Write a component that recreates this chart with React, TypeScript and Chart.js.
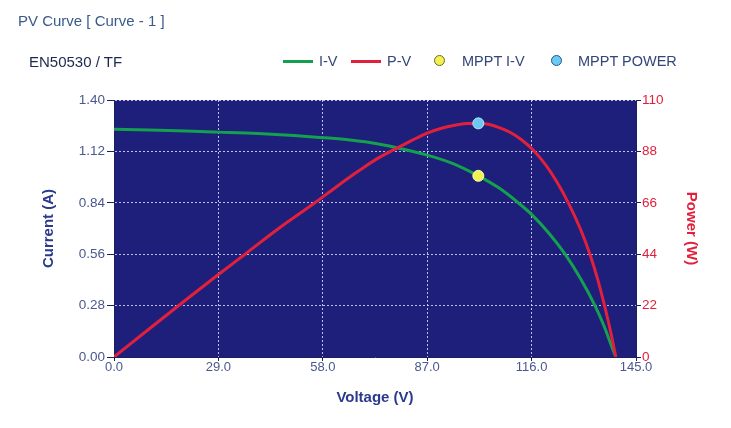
import React, { useEffect, useRef } from 'react';
import { Chart, registerables } from 'chart.js';

Chart.register(...registerables);

// I-V curve (Voltage V, Current A)
const ivVoltage = [0, 10, 20, 29, 40, 50, 58, 65, 71, 78.5, 87, 94, 101.2, 107, 112.3, 116.2, 121, 125.3, 129.5, 133.6, 136.1, 138, 139.4];
const ivCurrent = [1.24, 1.236, 1.231, 1.225, 1.217, 1.206, 1.195, 1.183, 1.168, 1.14, 1.1, 1.055, 0.987, 0.92, 0.84, 0.773, 0.67, 0.56, 0.43, 0.28, 0.17, 0.07, 0];

// P-V curve (Voltage V, Power W)
const pvVoltage = [0, 10, 20, 29, 36.4, 46, 55.8, 62, 68.3, 73, 78.5, 83, 87, 91, 95, 98, 101.2, 104, 107, 110, 113, 116.5, 120, 123, 126.2, 129.5, 132.2, 134.5, 136.1, 138, 139.4];
const pvPower = [0, 12.3, 24.5, 35.3, 44, 55.3, 66, 73.1, 80, 84.8, 89.3, 92.9, 95.8, 97.9, 99.3, 99.9, 100, 99.6, 98.2, 96.2, 93.2, 88.5, 82, 75, 66, 55, 44, 32.5, 23, 10.5, 0];

// MPPT points
const mpptVoltage = [101.2];
const mpptCurrent = [0.987];
const mpptPower = [100];

// Tick labels
const voltageTicks = [0, 29, 58, 87, 116, 145];
const currentTicks = [0, 0.28, 0.56, 0.84, 1.12, 1.4];
const powerTicks = [0, 22, 44, 66, 88, 110];

const FONT = "'Liberation Sans', Arial, sans-serif";
const GRID = 'rgba(215,222,255,0.85)';
const AXIS = '#1a1f5e';
const TICKTXT = '#4a5890';
const TITLEBLUE = '#2b3a8c';
const RED = '#e3203c';
const GREEN = '#14a04e';

const plotBg = {
  id: 'plotBg',
  beforeDraw(chart: any) {
    const { ctx, chartArea } = chart;
    if (!chartArea) return;
    ctx.save();
    ctx.fillStyle = '#1d1f7a';
    ctx.fillRect(chartArea.left, chartArea.top, chartArea.right - chartArea.left, chartArea.bottom - chartArea.top);
    ctx.restore();
  },
};

export default function App() {
  const ref = useRef<HTMLCanvasElement | null>(null);

  useEffect(() => {
    if (!ref.current) return;
    const chart = new Chart(ref.current, {
      type: 'line',
      data: {
        datasets: [
          {
            label: 'MPPT POWER',
            type: 'scatter',
            data: mpptVoltage.map((v, i) => ({ x: v, y: mpptPower[i] })),
            yAxisID: 'y1',
            pointRadius: 5.5,
            pointBackgroundColor: '#6ccaf2',
            pointBorderColor: '#b8e8ff',
            pointBorderWidth: 1,
            order: 0,
          } as any,
          {
            label: 'MPPT I-V',
            type: 'scatter',
            data: mpptVoltage.map((v, i) => ({ x: v, y: mpptCurrent[i] })),
            yAxisID: 'y',
            pointRadius: 5.5,
            pointBackgroundColor: '#f2f052',
            pointBorderColor: '#fbfbb0',
            pointBorderWidth: 1,
            order: 0,
          } as any,
          {
            label: 'P-V',
            data: pvVoltage.map((v, i) => ({ x: v, y: pvPower[i] })),
            yAxisID: 'y1',
            borderColor: RED,
            borderWidth: 3,
            pointRadius: 0,
            cubicInterpolationMode: 'monotone',
            fill: false,
            order: 1,
          },
          {
            label: 'I-V',
            data: ivVoltage.map((v, i) => ({ x: v, y: ivCurrent[i] })),
            yAxisID: 'y',
            borderColor: GREEN,
            borderWidth: 3,
            pointRadius: 0,
            cubicInterpolationMode: 'monotone',
            fill: false,
            order: 2,
          },
        ],
      },
      options: {
        responsive: false,
        animation: false,
        devicePixelRatio: 1,
        layout: { padding: { left: 36, right: 26.5, top: 100, bottom: 17 } },
        plugins: { legend: { display: false }, tooltip: { enabled: false } },
        scales: {
          x: {
            type: 'linear',
            position: 'bottom',
            min: 0,
            max: 145,
            afterBuildTicks: (s: any) => { s.ticks = voltageTicks.map((v) => ({ value: v })); },
            afterFit: (s: any) => { s.height = 54; },
            ticks: {
              callback: (v: any) => Number(v).toFixed(1),
              color: TICKTXT,
              font: { family: FONT, size: 13 },
              padding: -1.5,
              maxRotation: 0,
              autoSkip: false,
            },
            grid: {
              color: (c: any) => (c.tick && (c.tick.value === 0 || c.tick.value === 145) ? 'transparent' : GRID),
              tickColor: AXIS,
              tickLength: 4,
              lineWidth: 1,
            },
            border: { color: AXIS, width: 1, dash: [2, 2] },
            title: { display: true, text: 'Voltage (V)', color: TITLEBLUE, font: { family: FONT, size: 15, weight: 'bold' } },
          },
          y: {
            type: 'linear',
            position: 'left',
            min: 0,
            max: 1.4,
            afterBuildTicks: (s: any) => { s.ticks = currentTicks.map((v) => ({ value: v })); },
            afterFit: (s: any) => { s.width = 78; },
            ticks: {
              callback: (v: any) => Number(v).toFixed(2),
              color: TICKTXT,
              font: { family: FONT, size: 13.5 },
              padding: 2,
              autoSkip: false,
            },
            grid: {
              color: (c: any) => (c.tick && c.tick.value === 0 ? 'transparent' : GRID),
              tickColor: AXIS,
              tickLength: 7,
              lineWidth: 1,
            },
            border: { color: AXIS, width: 1, dash: [2, 2] },
            title: { display: true, text: 'Current (A)', color: TITLEBLUE, font: { family: FONT, size: 15, weight: 'bold' } },
          },
          y1: {
            type: 'linear',
            position: 'right',
            min: 0,
            max: 110,
            afterBuildTicks: (s: any) => { s.ticks = powerTicks.map((v) => ({ value: v })); },
            afterFit: (s: any) => { s.width = 68.5; },
            ticks: {
              callback: (v: any) => String(v),
              color: RED,
              font: { family: FONT, size: 13.5 },
              padding: 1,
              autoSkip: false,
            },
            grid: {
              drawOnChartArea: false,
              tickColor: AXIS,
              tickLength: 5,
            },
            border: { color: AXIS, width: 1 },
            title: { display: true, text: 'Power (W)', color: RED, font: { family: FONT, size: 15, weight: 'bold' } },
          },
        },
      } as any,
      plugins: [plotBg],
    });
    return () => chart.destroy();
  }, []);

  const txt: React.CSSProperties = { position: 'absolute', fontFamily: FONT, whiteSpace: 'nowrap' };
  const legendTxt: React.CSSProperties = { ...txt, top: 52, fontSize: 14.5, lineHeight: '18px', color: '#34467a' };
  const dot = (left: number, fill: string, ring: string): React.CSSProperties => ({
    position: 'absolute', left: left - 6, top: 55, width: 9, height: 9, borderRadius: '50%', background: fill, border: `1.5px solid ${ring}`,
  });

  return (
    <div style={{ position: 'absolute', left: 0, top: 0, width: 731, height: 428, background: '#fff', overflow: 'hidden' }}>
      <canvas ref={ref} width={731} height={428} style={{ position: 'absolute', left: 0, top: 0 }} />
      <div style={{ ...txt, left: 18, top: 12, fontSize: 15, lineHeight: '18px', color: '#3a5a8c' }}>PV Curve [ Curve - 1 ]</div>
      <div style={{ ...txt, left: 29, top: 53, fontSize: 15, lineHeight: '18px', color: '#1c2850' }}>EN50530 / TF</div>
      <div style={{ position: 'absolute', left: 283, top: 60, width: 30, height: 3, background: GREEN }} />
      <div style={{ ...legendTxt, left: 319 }}>I-V</div>
      <div style={{ position: 'absolute', left: 351, top: 60, width: 30, height: 3, background: RED }} />
      <div style={{ ...legendTxt, left: 387 }}>P-V</div>
      <div style={dot(440, '#f2f052', '#6a6a20')} />
      <div style={{ ...legendTxt, left: 462 }}>MPPT I-V</div>
      <div style={dot(557, '#6ccaf2', '#1f5a8a')} />
      <div style={{ ...legendTxt, left: 578 }}>MPPT POWER</div>
    </div>
  );
}
